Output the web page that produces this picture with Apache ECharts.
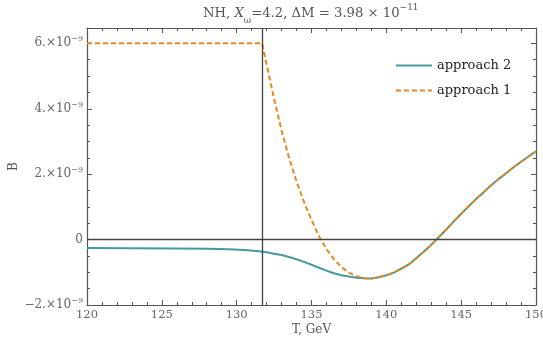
<!DOCTYPE html>
<html><head><meta charset="utf-8">
<script src="https://cdn.jsdelivr.net/npm/echarts@6/dist/echarts.min.js"></script>
<style>html,body{margin:0;padding:0;background:#fff}#c{width:543px;height:350px}</style>
</head><body><div id="c"></div>
<script>
// Values of B are in units of 1e-9
const xTickValues = [120, 125, 130, 135, 140, 145, 150];
const yTickValues = [-2, 0, 2, 4, 6];
const yTickMantissa = {'-2': '−2.', '0': '0', '2': '2.', '4': '4.', '6': '6.'};
const yTickExponent = '−9';
const transitionT = 131.7;

const seriesNames = ['approach 2', 'approach 1'];

const T_approach2 = [120, 123, 126, 128, 129.5, 130.5, 131.5, 132, 132.5, 133, 133.5, 134, 134.5, 135, 135.5, 136, 136.5, 137, 137.5, 138, 138.5, 139, 139.5, 140, 140.5, 141, 141.5, 142, 142.5, 143, 143.5, 144, 144.5, 145, 145.5, 146, 146.5, 147, 147.5, 148, 148.5, 149, 149.5, 150];
const B_approach2 = [-0.26, -0.265, -0.27, -0.28, -0.295, -0.32, -0.36, -0.39, -0.43, -0.47, -0.53, -0.60, -0.68, -0.77, -0.86, -0.95, -1.03, -1.09, -1.13, -1.165, -1.185, -1.19, -1.15, -1.09, -1.01, -0.89, -0.76, -0.57, -0.37, -0.16, 0.07, 0.31, 0.55, 0.79, 1.02, 1.24, 1.45, 1.66, 1.85, 2.03, 2.21, 2.38, 2.54, 2.70];

const T_approach1 = [120, 131.7, 132, 132.5, 133, 133.5, 134, 134.5, 135, 135.5, 136, 136.5, 137, 137.5, 138, 138.5, 139, 139.5, 140, 140.5, 141, 141.5, 142, 142.5, 143, 143.5, 144, 144.5, 145, 145.5, 146, 146.5, 147, 147.5, 148, 148.5, 149, 149.5, 150];
const B_approach1 = [6.0, 6.0, 5.36, 4.30, 3.34, 2.50, 1.78, 1.15, 0.60, 0.10, -0.29, -0.60, -0.84, -1.01, -1.12, -1.18, -1.19, -1.15, -1.09, -1.01, -0.89, -0.76, -0.57, -0.37, -0.16, 0.07, 0.31, 0.55, 0.79, 1.02, 1.24, 1.45, 1.66, 1.85, 2.03, 2.21, 2.38, 2.54, 2.70];

const FONT = 'DejaVu Serif';
const frameColor = '#555';
const X_MIN = 120, X_MAX = 150, Y_MIN = -2, Y_MAX = 6.47;

function zip(a, b) { return a.map((v, i) => [v, b[i]]); }

function yLabel(v) {
  const k = String(Math.round(v));
  if (!(k in yTickMantissa)) return '';
  if (k === '0') return '{m|0}';
  return '{m|' + yTickMantissa[k] + '×10}{s|' + yTickExponent + '}';
}

const chart = echarts.init(document.getElementById('c'), null, {renderer: 'canvas'});
const baseAxisX = {
  type: 'value', min: X_MIN, max: X_MAX, interval: 5,
  splitLine: {show: false},
  axisLine: {show: true, onZero: false, lineStyle: {color: frameColor, width: 1.2}},
  axisTick: {show: true, inside: true, length: 5, lineStyle: {color: frameColor}},
  minorTick: {show: true, splitNumber: 5, length: 3, lineStyle: {color: frameColor}}
};
const baseAxisY = {
  type: 'value', min: Y_MIN, max: Y_MAX, interval: 2,
  splitLine: {show: false},
  axisLine: {show: true, onZero: false, lineStyle: {color: frameColor, width: 1.2}},
  axisTick: {show: true, inside: true, length: 5, lineStyle: {color: frameColor}},
  axisLabel: {show: false}
};
const minorAxisY = {
  type: 'value', min: Y_MIN, max: Y_MAX, interval: 0.5,
  splitLine: {show: false},
  axisLine: {show: false},
  axisTick: {show: true, inside: true, length: 3, lineStyle: {color: frameColor}},
  axisLabel: {show: false}
};

const titleColor = '#555';
chart.setOption({
  animation: false,
  backgroundColor: '#fff',
  title: {
    text: '{t|NH, }{i|X}{sub|ω}{t|=4.2, ΔM = 3.98 × 10}{sup|−11}',
    left: 203, top: 3, padding: 0,
    textStyle: {
      fontWeight: 'normal',
      rich: {
        t: {fontFamily: FONT, fontSize: 13.2, fontWeight: 'normal', color: titleColor, lineHeight: 22, verticalAlign: 'middle'},
        i: {fontFamily: FONT, fontSize: 13.2, fontWeight: 'normal', color: titleColor, fontStyle: 'italic', lineHeight: 22, verticalAlign: 'middle'},
        sub: {fontFamily: FONT, fontSize: 9, fontWeight: 'normal', color: titleColor, lineHeight: 13, verticalAlign: 'bottom'},
        sup: {fontFamily: FONT, fontSize: 9, fontWeight: 'normal', color: titleColor, lineHeight: 12, verticalAlign: 'top'}
      }
    }
  },
  legend: {
    data: seriesNames,
    orient: 'vertical', left: 395, top: 59, padding: 0,
    itemWidth: 36, itemHeight: 14, itemGap: 12,
    itemStyle: {opacity: 0},
    textStyle: {fontFamily: FONT, fontSize: 13, color: '#222'}
  },
  grid: {left: 87, right: 7, top: 28, bottom: 45, containLabel: false, outerBoundsMode: 'none'},
  xAxis: [
    Object.assign({}, baseAxisX, {
      position: 'bottom',
      name: 'T, GeV', nameLocation: 'middle', nameGap: 19, nameMoveOverlap: false,
      nameTextStyle: {fontFamily: FONT, fontSize: 12, color: '#555'},
      axisLabel: {show: true, margin: 4, fontFamily: FONT, fontSize: 11.5, color: '#666',
        formatter: v => xTickValues.includes(v) ? String(v) : ''}
    }),
    Object.assign({}, baseAxisX, {position: 'top', axisLabel: {show: false}})
  ],
  yAxis: [
    Object.assign({}, baseAxisY, {
      position: 'left',
      name: 'B', nameLocation: 'middle', nameGap: 67, nameRotate: 90, nameMoveOverlap: false,
      nameTextStyle: {fontFamily: FONT, fontSize: 12, color: '#555'},
      axisLabel: {show: true, margin: 4, showMaxLabel: false, formatter: yLabel,
        rich: {
          m: {fontFamily: FONT, fontSize: 12, color: '#666', lineHeight: 16, verticalAlign: 'middle'},
          s: {fontFamily: FONT, fontSize: 8, color: '#666', lineHeight: 9, verticalAlign: 'top'}
        }}
    }),
    Object.assign({}, baseAxisY, {position: 'right'}),
    Object.assign({}, minorAxisY, {position: 'left'}),
    Object.assign({}, minorAxisY, {position: 'right'})
  ],
  series: [
    {
      name: seriesNames[0], type: 'line', xAxisIndex: 0, yAxisIndex: 0,
      data: zip(T_approach2, B_approach2), smooth: false, showSymbol: false, symbol: 'none',
      lineStyle: {color: '#449a9e', width: 2}, itemStyle: {color: '#449a9e'},
      markLine: {
        silent: true, symbol: 'none', label: {show: false},
        lineStyle: {color: '#444', width: 1.3, type: 'solid'},
        data: [{xAxis: transitionT}, {yAxis: 0}]
      },
      z: 2
    },
    {
      name: seriesNames[1], type: 'line', xAxisIndex: 0, yAxisIndex: 0,
      data: zip(T_approach1, B_approach1), smooth: false, showSymbol: false, symbol: 'none',
      lineStyle: {color: '#e5891d', width: 2, type: [5, 3]}, itemStyle: {color: '#e5891d'},
      z: 3
    }
  ]
});
</script></body></html>
